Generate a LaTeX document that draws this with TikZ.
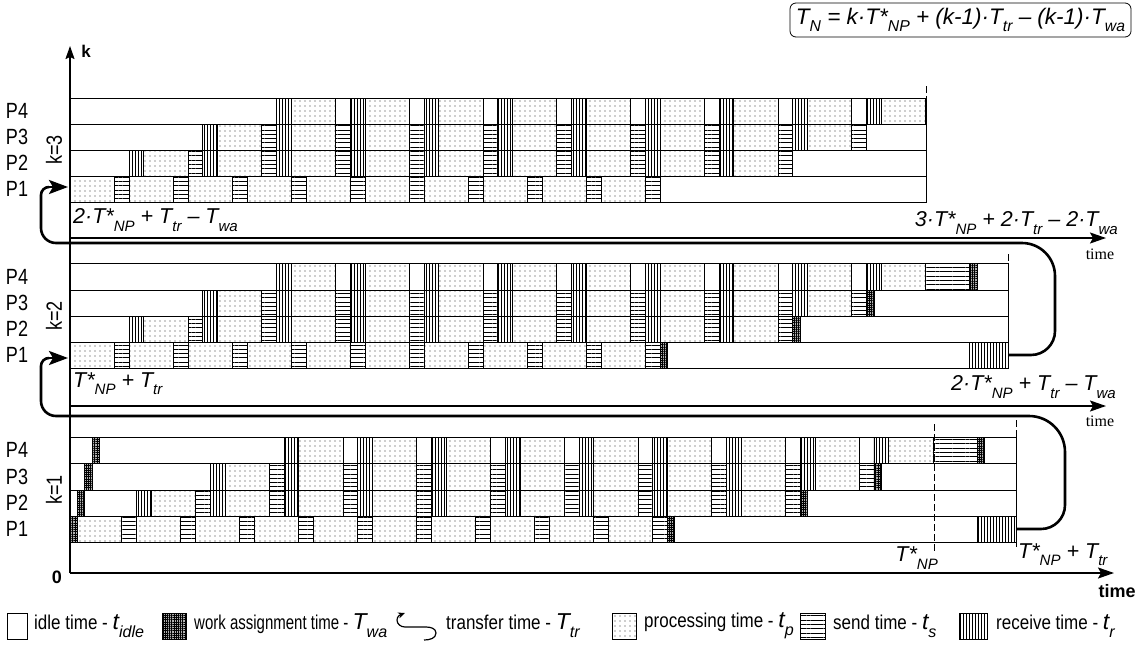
\documentclass[tikz,border=0pt]{standalone}
\usepackage{fontspec}
\usepackage{graphicx}
\setmainfont{Liberation Sans}
\newfontfamily\narrow[FakeStretch=0.82]{Liberation Sans}
\newfontfamily\legfont[FakeStretch=0.85]{Liberation Sans}
\newfontfamily\legtight[FakeStretch=0.75]{Liberation Sans}
\newfontfamily\tms{Liberation Serif}
\usetikzlibrary{patterns.meta,arrows.meta}
\newcommand\sbs[1]{\raisebox{-0.34em}{\scalebox{0.7}{#1}}}
\def\U{14.75}
\tikzset{
  cell/.style={draw=black, line width=0.6pt},
  idle/.style={cell, fill=white},
  proc/.style={cell, pattern={Dots[distance=5pt, radius=0.65pt]}, pattern color=black!80},
  snd/.style={cell, pattern={Lines[angle=0, distance=4.3pt, line width=0.85pt]}},
  rcv/.style={cell, pattern={Lines[angle=90, distance=3pt, line width=0.85pt]}},
  wa/.style={cell, preaction={fill=black!30}, pattern={Hatch[distance=2.2pt, line width=0.5pt]}},
  dashln/.style={line width=0.6pt, dash pattern=on 7pt off 3pt},
  loopln/.style={line width=2.6pt},
  tipln/.style={line width=2.6pt, -{Stealth[length=19pt,width=14pt,inset=4pt]}},
  axis/.style={line width=1.8pt, -{Stealth[length=16pt,width=11pt,inset=3pt]}},
  lab/.style={font=\narrow\fontsize{22}{22}\selectfont, inner sep=0},
  leg/.style={font=\legfont\fontsize{20}{20}\selectfont, inner sep=0, anchor=west},
  eq/.style={font=\fontsize{21.5}{21.5}\selectfont\itshape, inner sep=0},
}
% #1 origin x, #2 P4 top, #3 P3 top, #4 P2 top, #5 P1 top, #6 P1 bottom
\newcommand\ganttrows[6]{%
  \foreach \i in {0,...,9}{%
    \draw[proc] ({#1+4*\i*\U},#5) rectangle ({#1+(4*\i+3)*\U},#6);
    \draw[snd] ({#1+(4*\i+3)*\U},#5) rectangle ({#1+(4*\i+4)*\U},#6);
  }%
  \foreach \j in {0,...,8}{%
    \draw[rcv] ({#1+(4+5*\j)*\U},#4) rectangle ({#1+(5+5*\j)*\U},#5);
    \draw[proc] ({#1+(5+5*\j)*\U},#4) rectangle ({#1+(8+5*\j)*\U},#5);
    \draw[snd] ({#1+(8+5*\j)*\U},#4) rectangle ({#1+(9+5*\j)*\U},#5);
    \draw[rcv] ({#1+(9+5*\j)*\U},#3) rectangle ({#1+(10+5*\j)*\U},#4);
    \draw[proc] ({#1+(10+5*\j)*\U},#3) rectangle ({#1+(13+5*\j)*\U},#4);
    \draw[snd] ({#1+(13+5*\j)*\U},#3) rectangle ({#1+(14+5*\j)*\U},#4);
    \draw[rcv] ({#1+(14+5*\j)*\U},#2) rectangle ({#1+(15+5*\j)*\U},#3);
    \draw[proc] ({#1+(15+5*\j)*\U},#2) rectangle ({#1+(18+5*\j)*\U},#3);
  }%
}
% idle rows: #1 end x, #2..#6 row boundaries
\newcommand\idlerows[6]{%
  \draw[idle] (70,#2) rectangle (#1,#3);
  \draw[idle] (70,#3) rectangle (#1,#4);
  \draw[idle] (70,#4) rectangle (#1,#5);
  \draw[idle] (70,#5) rectangle (#1,#6);
}
% end part: #1 origin, #2..#6 rows, #7 end x
\newcommand\ganttend[7]{%
  \draw[snd] ({#1+58*\U},#2) rectangle ({#1+61*\U},#3);
  \draw[wa] ({#1+61*\U},#2) rectangle ({#1+61.5*\U},#3);
  \draw[wa] ({#1+54*\U},#3) rectangle ({#1+54.5*\U},#4);
  \draw[wa] ({#1+49*\U},#4) rectangle ({#1+49.5*\U},#5);
  \draw[wa] ({#1+40*\U},#5) rectangle ({#1+40.5*\U},#6);
  \draw[rcv] ({#1+61*\U},#5) rectangle (#7,#6);
}
\newcommand\lsym[2]{{\normalfont\fontsize{23}{23}\selectfont\itshape #1\sbs{#2}}}
\begin{document}
\begin{tikzpicture}[x=1pt,y=-1pt]
\useasboundingbox (0,0) rectangle (1141,646);
\fill[white] (0,0) rectangle (1141,646);

% formula box
\node[eq, font=\fontsize{22.5}{22.5}\selectfont\itshape, draw, rounded corners=6pt, line width=0.8pt, minimum width=341pt, minimum height=34pt] (formula) at (960.5,20)
  {T\sbs{N} = k·T*\sbs{NP} + (k-1)·T\sbs{tr} – (k-1)·T\sbs{wa}};

% vertical axis
\coordinate (origin) at (70,573);
\coordinate (ktop) at (70,46);
\draw[line width=1.5pt, -{Stealth[length=13pt,width=9pt,inset=2pt]}] (origin) -- (ktop);
\node[font=\bfseries\fontsize{17}{17}\selectfont] (klab) at (86,51) {k};
\node[font=\bfseries\fontsize{18}{18}\selectfont] (zero) at (57,577) {0};

% ===== k=3 block =====
\idlerows{926}{98}{124}{150}{176}{202.5}
\ganttrows{70}{98}{124}{150}{176}{202.5}
\draw[dashln] (926,86) -- (926,203);
\node[lab] (k3p4) at (17,111) {P4};
\node[lab] (k3p3) at (17,137) {P3};
\node[lab] (k3p2) at (17,163) {P2};
\node[lab] (k3p1) at (17,189) {P1};
\node[lab, rotate=90] (k3) at (54,150) {k=3};
\node[eq, anchor=west] (k3l) at (73,220) {2·T*\sbs{NP} + T\sbs{tr} – T\sbs{wa}};
\node[eq, anchor=east] (k3r) at (1118,223) {3·T*\sbs{NP} + 2·T\sbs{tr} – 2·T\sbs{wa}};
\coordinate (ax3s) at (70,238);
\coordinate (ax3e) at (1106,238);
\draw[axis] (ax3s) -- (ax3e);
\node[font=\tms\fontsize{16}{16}\selectfont] (t3) at (1100,254) {time};

% ===== k=2 block =====
\idlerows{1008.5}{263.5}{290}{316}{342}{368}
\ganttrows{70}{263.5}{290}{316}{342}{368}
\ganttend{70}{263.5}{290}{316}{342}{368}{1008.5}
\draw[dashln] (1008.5,254) -- (1008.5,368);
\node[lab] (k2p4) at (17,277) {P4};
\node[lab] (k2p3) at (17,303) {P3};
\node[lab] (k2p2) at (17,329) {P2};
\node[lab] (k2p1) at (17,355) {P1};
\node[lab, rotate=90] (k2) at (54,316) {k=2};
\node[eq, anchor=west] (k2l) at (73,384) {T*\sbs{NP} + T\sbs{tr}};
\node[eq, anchor=east] (k2r) at (1116,387) {2·T*\sbs{NP} + T\sbs{tr} – T\sbs{wa}};
\coordinate (ax2s) at (70,406);
\coordinate (ax2e) at (1106,406);
\draw[axis] (ax2s) -- (ax2e);
\node[font=\tms\fontsize{16}{16}\selectfont] (t2) at (1100,421) {time};

% ===== k=1 block =====
\idlerows{1016.5}{437.5}{463.5}{490}{516}{542}
\draw[wa] (70,516) rectangle (77.375,542);
\draw[wa] (77.375,490) rectangle ({77.375+0.5*\U},516);
\draw[wa] ({77.375+0.5*\U},463.5) rectangle ({77.375+1*\U},490);
\draw[wa] ({77.375+1*\U},437.5) rectangle ({77.375+1.5*\U},463.5);
\ganttrows{77.375}{437.5}{463.5}{490}{516}{542}
\ganttend{77.375}{437.5}{463.5}{490}{516}{542}{1016.5}
\draw[dashln] (934,424) -- (934,553);
\draw[dashln] (1016.5,420) -- (1016.5,548);
\node[lab] (k1p4) at (17,450) {P4};
\node[lab] (k1p3) at (17,477) {P3};
\node[lab] (k1p2) at (17,503) {P2};
\node[lab] (k1p1) at (17,529) {P1};
\node[lab, rotate=90] (k1) at (54,490) {k=1};
\node[eq, anchor=east] (tnp) at (938,558) {T*\sbs{NP}};
\node[eq, anchor=west] (tnptr) at (1018,555) {T*\sbs{NP} + T\sbs{tr}};
\coordinate (ax1e) at (1114,573);
\draw[axis] (origin) -- (ax1e);
\node[font=\bfseries\fontsize{18}{18}\selectfont] (t1) at (1117,591) {time};

% ===== transfer loops =====
\coordinate (la0) at (1008.5,355);
\coordinate (la1) at (1055,355);
\coordinate (la2) at (1055,243);
\coordinate (la3) at (41,243);
\coordinate (la4) at (41,187);
\coordinate (la5) at (49,187);
\coordinate (la6) at (68,187);
\draw[loopln] (la0) [rounded corners=24pt] -- (la1) [rounded corners=33pt] -- (la2) [rounded corners=15pt] -- (la3) [rounded corners=8pt] -- (la4) -- (la5);
\draw[tipln] (la5) -- (la6);

\coordinate (lb0) at (1016.5,529);
\coordinate (lb1) at (1065,529);
\coordinate (lb2) at (1065,416);
\coordinate (lb3) at (41,416);
\coordinate (lb4) at (41,358);
\coordinate (lb5) at (49,358);
\coordinate (lb6) at (68,358);
\draw[loopln] (lb0) [rounded corners=24pt] -- (lb1) [rounded corners=36pt] -- (lb2) [rounded corners=15pt] -- (lb3) [rounded corners=8pt] -- (lb4) -- (lb5);
\draw[tipln] (lb5) -- (lb6);

% ===== legend =====
\draw[idle] (7,613) rectangle (27,639);
\node[leg] (l1) at (34,626) {idle time - \lsym{t}{idle}};
\draw[wa] (162,613) rectangle (186,639);
\node[leg, font=\legtight\fontsize{20}{20}\selectfont] (l2) at (194,626) {work assignment time - \lsym{T}{wa}};
\draw[line width=1.2pt, {Stealth[length=7pt,width=6pt]}-] (405,613) to[out=200,in=90] (397,620) to[out=-90,in=180] (405,627) -- (426,627) to[out=0,in=90] (436,633) to[out=-90,in=0] (424,640);
\node[leg] (l3) at (446,626) {transfer time - \lsym{T}{tr}};
\draw[proc] (612,613) rectangle (636,639);
\node[leg] (l4) at (644,626) {processing time - \lsym{t}{p}};
\draw[snd] (800,613) rectangle (825,639);
\node[leg] (l5) at (833,626) {send time - \lsym{t}{s}};
\draw[rcv] (959,613) rectangle (987,639);
\node[leg] (l6) at (996,626) {receive time - \lsym{t}{r}};
\end{tikzpicture}
\end{document}
